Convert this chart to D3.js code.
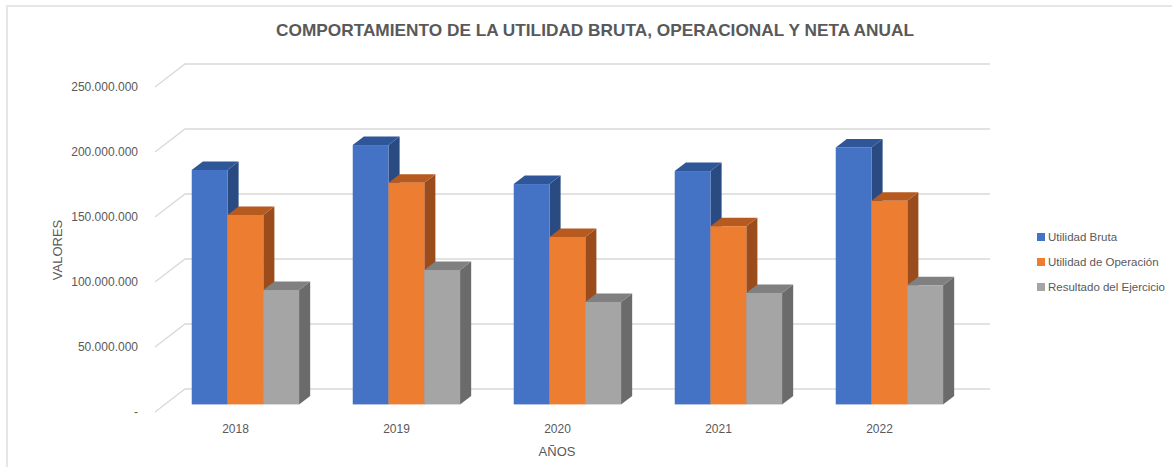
<!DOCTYPE html>
<html>
<head>
<meta charset="utf-8">
<script src="https://cdn.jsdelivr.net/npm/d3@7"></script>
<style>
  body { margin: 0; background: #fff; }
  text { font-family: "Liberation Sans", Arial, sans-serif; fill: #595959; }
</style>
</head>
<body>
<div id="chart-container"></div>
<script>
// Data
const years = ["2018", "2019", "2020", "2021", "2022"];
const seriesNames = ["Utilidad Bruta", "Utilidad de Operación", "Resultado del Ejercicio"];
const utilidadBruta = [180300000, 199500000, 169500000, 179500000, 197700000];
const utilidadOperacion = [145700000, 170500000, 128800000, 137100000, 156600000];
const resultadoEjercicio = [88000000, 103400000, 78800000, 85700000, 91700000];
const yTicks = [0, 50000000, 100000000, 150000000, 200000000, 250000000];

const width = 1172;
const height = 467;

// 3D look: floor depth offset
const DX = 30, DY = 23;
const depthFront = 0.33, depthBack = 0.70;

const colors = [
  { front: "#4472C4", top: "#30569a", side: "#2a4a82" },
  { front: "#ED7D31", top: "#b65a20", side: "#9a4c1c" },
  { front: "#A5A5A5", top: "#808080", side: "#6b6b6b" }
];

const svg = d3.select("#chart-container")
  .append("svg")
  .attr("width", width)
  .attr("height", height);

// chart border (top and left edges visible)
svg.append("path")
  .attr("d", "M7,467 L7,6 L1172,6")
  .attr("fill", "none")
  .attr("stroke", "#e6e6e6")
  .attr("stroke-width", 2);

// scales on the front plane
const x = d3.scaleBand()
  .domain(years)
  .range([155, 960]);

const xs = d3.scaleBand()
  .domain(d3.range(3))
  .range([0, x.bandwidth()])
  .paddingOuter(0.75);

const y = d3.scaleLinear()
  .domain([0, 250000000])
  .range([412, 87]);

const locale = d3.formatLocale({ decimal: ",", thousands: ".", grouping: [3], currency: ["", ""] });
const fmt = locale.format(",");

// gridlines: diagonal on the side wall, then flat along the back wall
svg.append("g")
  .selectAll("path")
  .data(yTicks)
  .join("path")
  .attr("fill", "none")
  .attr("stroke", "#d9d9d9")
  .attr("stroke-width", 1.3)
  .attr("d", d => {
    const y0 = y(d);
    return `M${x.range()[0]},${y0} L${x.range()[0] + DX},${y0 - DY} L${x.range()[1] + DX},${y0 - DY}`;
  });

// y tick labels
svg.append("g")
  .selectAll("text")
  .data(yTicks)
  .join("text")
  .attr("x", 138)
  .attr("y", d => y(d))
  .attr("dy", "0.35em")
  .attr("text-anchor", "end")
  .style("font-size", "12px")
  .text(d => d === 0 ? "-" : fmt(d));

// bars
const series = [utilidadBruta, utilidadOperacion, resultadoEjercicio];
const bw = xs.bandwidth();
const ox = depthFront * DX, oy = depthFront * DY;
const dx = (depthBack - depthFront) * DX, dy = (depthBack - depthFront) * DY;

const barG = svg.append("g");
years.forEach((yr, i) => {
  series.forEach((vals, s) => {
    const x0 = x(yr) + xs(s) + ox;
    const x1 = x0 + bw;
    const yb = y(0) - oy;
    const yt = y(vals[i]) - oy;
    const c = colors[s];
    const g = barG.append("g");
    // side face
    g.append("path")
      .attr("d", `M${x1},${yb} L${x1 + dx},${yb - dy} L${x1 + dx},${yt - dy} L${x1},${yt} Z`)
      .attr("fill", c.side);
    // top face
    g.append("path")
      .attr("d", `M${x0},${yt} L${x0 + dx},${yt - dy} L${x1 + dx},${yt - dy} L${x1},${yt} Z`)
      .attr("fill", c.top);
    // front face
    g.append("rect")
      .attr("x", x0)
      .attr("y", yt)
      .attr("width", bw)
      .attr("height", yb - yt)
      .attr("fill", c.front);
  });
});

// x labels
svg.append("g")
  .selectAll("text")
  .data(years)
  .join("text")
  .attr("x", d => x(d) + x.bandwidth() / 2)
  .attr("y", 429)
  .attr("dy", "0.35em")
  .attr("text-anchor", "middle")
  .style("font-size", "12px")
  .text(d => d);

// axis titles
svg.append("text")
  .attr("x", 557)
  .attr("y", 451)
  .attr("dy", "0.35em")
  .attr("text-anchor", "middle")
  .style("font-size", "13px")
  .text("AÑOS");

svg.append("text")
  .attr("transform", "translate(57,250) rotate(-90)")
  .attr("dy", "0.35em")
  .attr("text-anchor", "middle")
  .style("font-size", "13px")
  .text("VALORES");

// title
svg.append("text")
  .attr("x", 595)
  .attr("y", 30)
  .attr("dy", "0.35em")
  .attr("text-anchor", "middle")
  .style("font-size", "17px")
  .style("font-weight", "bold")
  .attr("textLength", 638)
  .attr("lengthAdjust", "spacingAndGlyphs")
  .text("COMPORTAMIENTO DE LA UTILIDAD BRUTA, OPERACIONAL Y NETA ANUAL");

// legend
const legend = svg.append("g")
  .selectAll("g")
  .data(seriesNames)
  .join("g")
  .attr("transform", (d, i) => `translate(1037, ${237 + i * 25})`);

legend.append("rect")
  .attr("x", 0)
  .attr("y", -4)
  .attr("width", 8)
  .attr("height", 8)
  .attr("fill", (d, i) => colors[i].front);

legend.append("text")
  .attr("x", 11)
  .attr("y", 0)
  .attr("dy", "0.35em")
  .style("font-size", "11.5px")
  .text(d => d);
</script>
</body>
</html>
